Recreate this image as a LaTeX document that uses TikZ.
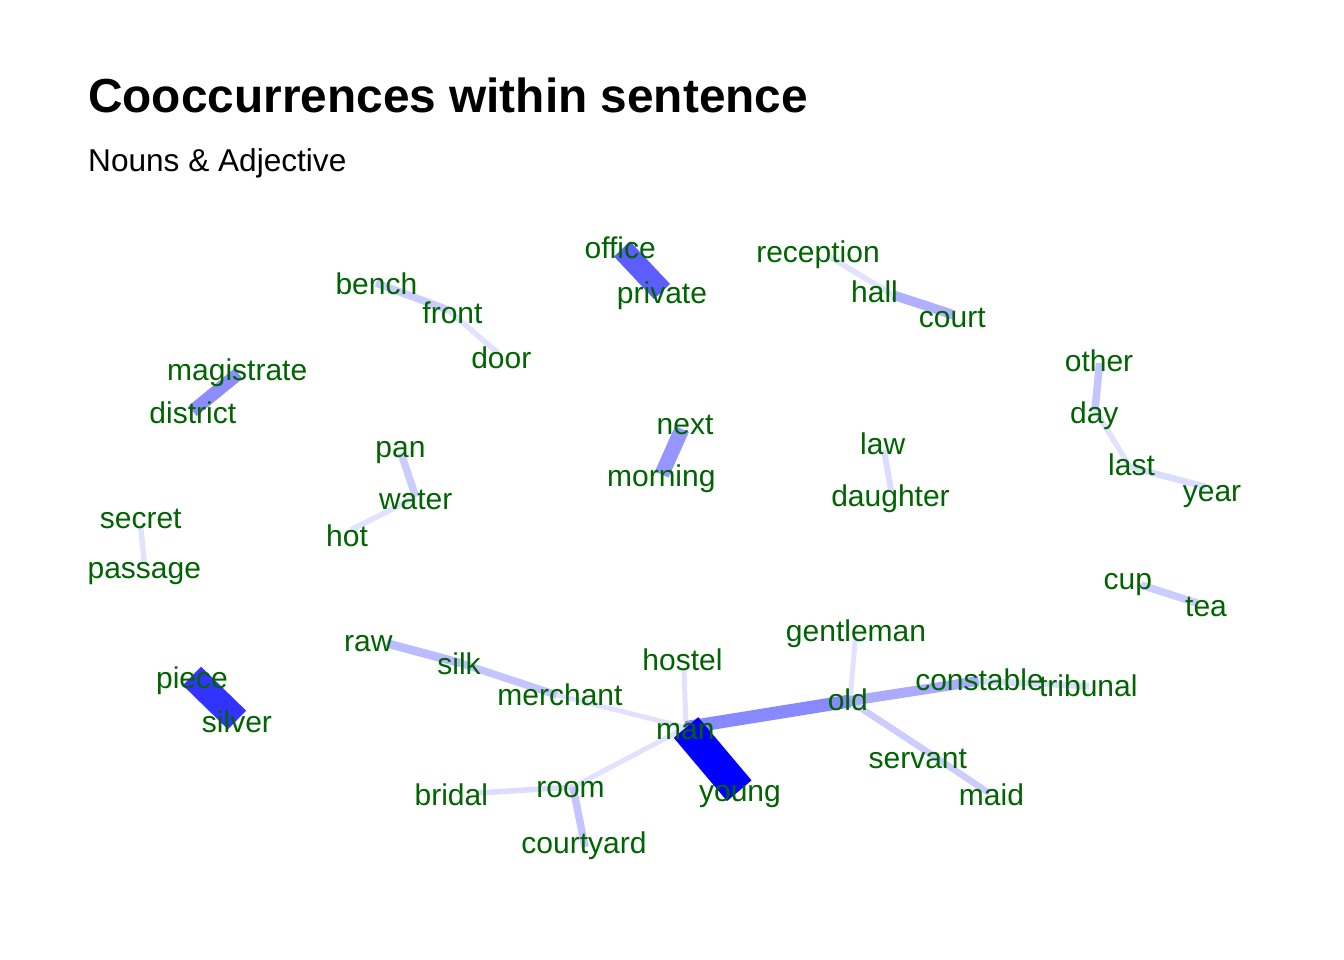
\documentclass[tikz,border=0pt]{standalone}
\usepackage{fontspec}
\setmainfont{Liberation Sans}
\definecolor{lbl}{RGB}{0,100,0}
\begin{document}
\begin{tikzpicture}[x=1pt,y=-1pt,
  lab/.style={anchor=base,inner sep=0pt,text=lbl,font=\fontsize{30}{36}\selectfont,yshift=-1.5pt},
  ed/.style={line cap=butt,line width=#1},
]
\fill[white] (0,0) rectangle (1344,960);
\useasboundingbox (0,0) rectangle (1344,960);
% title
\node[anchor=base west,inner sep=0pt,font=\fontsize{47.8}{56}\selectfont\bfseries] (title) at (88,113) {Cooccurrences within sentence};
\node[anchor=base west,inner sep=0pt,font=\fontsize{31.6}{38}\selectfont] (subtitle) at (88,171.5) {Nouns \& Adjective};
% node points
\coordinate (p-office) at (622,249);
\coordinate (p-private) at (662,291.5);
\coordinate (p-reception) at (830,257);
\coordinate (p-hall) at (893,295);
\coordinate (p-court) at (954,315);
\coordinate (p-bench) at (376,283);
\coordinate (p-front) at (448,310);
\coordinate (p-door) at (498,353);
\coordinate (p-magistrate) at (238.5,373.5);
\coordinate (p-district) at (192.5,411);
\coordinate (p-other) at (1099.6,363);
\coordinate (p-day) at (1095,410);
\coordinate (p-last) at (1130,467);
\coordinate (p-year) at (1206,487);
\coordinate (p-next) at (682,429);
\coordinate (p-morning) at (661.7,474.5);
\coordinate (p-law) at (884,450);
\coordinate (p-daughter) at (891,490);
\coordinate (p-pan) at (401,453);
\coordinate (p-water) at (415.7,497);
\coordinate (p-hot) at (351,530);
\coordinate (p-secret) at (140.7,527);
\coordinate (p-passage) at (144.3,563);
\coordinate (p-cup) at (1141,585);
\coordinate (p-tea) at (1197,603);
\coordinate (p-gentleman) at (855.4,637);
\coordinate (p-hostel) at (684,670);
\coordinate (p-raw) at (386.7,643.3);
\coordinate (p-silk) at (460,663);
\coordinate (p-merchant) at (556.7,695);
\coordinate (p-man) at (686,727.5);
\coordinate (p-old) at (850,701);
\coordinate (p-constable) at (978.6,681);
\coordinate (p-tribunal) at (1089,686);
\coordinate (p-servant) at (920,747);
\coordinate (p-maid) at (989,793);
\coordinate (p-piece) at (192,676);
\coordinate (p-silver) at (237,720);
\coordinate (p-young) at (739.3,790.7);
\coordinate (p-room) at (573,787);
\coordinate (p-bridal) at (478,793);
\coordinate (p-courtyard) at (585,847);
% edges
\definecolor{e1}{RGB}{0,0,255}
\definecolor{e2}{RGB}{51,51,255}
\definecolor{e3}{RGB}{92,92,255}
\definecolor{e4}{RGB}{150,150,255}
\definecolor{e5}{RGB}{140,140,255}
\definecolor{e6}{RGB}{136,136,255}
\definecolor{e7}{RGB}{170,170,255}
\definecolor{e8}{RGB}{176,176,255}
\definecolor{e9}{RGB}{187,187,255}
\definecolor{e10}{RGB}{196,196,255}
\definecolor{e11}{RGB}{204,204,255}
\definecolor{e12}{RGB}{220,220,255}
\definecolor{e13}{RGB}{226,226,255}
\draw[ed=5pt,e13] (p-man) -- (p-merchant);
\draw[ed=5pt,e13] (p-man) -- (p-room);
\draw[ed=5pt,e13] (p-man) -- (p-hostel);
\draw[ed=5pt,e13] (p-old) -- (p-gentleman);
\draw[ed=5.5pt,e13] (p-water) -- (p-hot);
\draw[ed=5.5pt,e13] (p-secret) -- (p-passage);
\draw[ed=5.5pt,e13] (p-front) -- (p-door);
\draw[ed=5.5pt,e13] (p-reception) -- (p-hall);
\draw[ed=5.5pt,e13] (p-day) -- (p-last);
\draw[ed=5.5pt,e12] (p-room) -- (p-bridal);
\draw[ed=6pt,e12] (p-law) -- (p-daughter);
\draw[ed=6.5pt,e12] (p-last) -- (p-year);
\draw[ed=6.5pt,e12] (p-constable) -- (p-tribunal);
\draw[ed=6.5pt,e11] (p-old) -- (p-servant);
\draw[ed=6.5pt,e11] (p-servant) -- (p-maid);
\draw[ed=7.5pt,e10] (p-room) -- (p-courtyard);
\draw[ed=7.5pt,e11] (p-pan) -- (p-water);
\draw[ed=7.5pt,e11] (p-cup) -- (p-tea);
\draw[ed=7.5pt,e10] (p-other) -- (p-day);
\draw[ed=7.5pt,e11] (p-bench) -- (p-front);
\draw[ed=7.5pt,e10] (p-silk) -- (p-merchant);
\draw[ed=8.5pt,e9] (p-raw) -- (p-silk);
\draw[ed=9.5pt,e8] (p-hall) -- (p-court);
\draw[ed=10pt,e7] (p-old) -- (p-constable);
\draw[ed=13pt,e6] (p-man) -- (p-old);
\draw[ed=13pt,e5] (p-magistrate) -- (p-district);
\draw[ed=15pt,e4] (p-next) -- (p-morning);
\draw[ed=22pt,e3] (p-office) -- (p-private);
\draw[ed=26pt,e2] (p-piece) -- (p-silver);
\draw[ed=32pt,e1] (p-man) -- (p-young);
% labels
\node[lab] (office) at (620.2,256.7) {office};
\node[lab] (private) at (662,301.7) {private};
\node[lab] (reception) at (818,260.7) {reception};
\node[lab] (hall) at (874.5,300.7) {hall};
\node[lab] (court) at (952.3,326) {court};
\node[lab] (bench) at (376.4,292.7) {bench};
\node[lab] (front) at (452.5,321.7) {front};
\node[lab] (door) at (501.3,366.7) {door};
\node[lab] (magistrate) at (237.2,379.3) {magistrate};
\node[lab] (district) at (192.8,422.3) {district};
\node[lab] (other) at (1099,370) {other};
\node[lab] (day) at (1094.3,421.7) {day};
\node[lab] (last) at (1131.5,474) {last};
\node[lab] (year) at (1212,500) {year};
\node[lab] (next) at (685,433.3) {next};
\node[lab] (morning) at (661.3,485) {morning};
\node[lab] (law) at (882.7,452.7) {law};
\node[lab] (daughter) at (890.5,505) {daughter};
\node[lab] (pan) at (400.5,456) {pan};
\node[lab] (water) at (415.7,508.3) {water};
\node[lab] (hot) at (347,545) {hot};
\node[lab] (secret) at (140.7,526.7) {secret};
\node[lab] (passage) at (144.3,576.7) {passage};
\node[lab] (cup) at (1127.8,588.3) {cup};
\node[lab] (tea) at (1206,615) {tea};
\node[lab] (gentleman) at (856,640) {gentleman};
\node[lab] (hostel) at (682.5,669.3) {hostel};
\node[lab] (raw) at (368.3,650) {raw};
\node[lab] (silk) at (459,673.3) {silk};
\node[lab] (merchant) at (560,704) {merchant};
\node[lab] (constable) at (979.5,689.3) {constable};
\node[lab] (tribunal) at (1088.3,695) {tribunal};
\node[lab] (old) at (847.8,709.3) {old};
\node[lab] (piece) at (192,686.7) {piece};
\node[lab] (silver) at (237,730.7) {silver};
\node[lab] (man) at (685.3,738.3) {man};
\node[lab] (servant) at (917.8,767.3) {servant};
\node[lab] (maid) at (991.5,804.3) {maid};
\node[lab] (bridal) at (451.3,804.3) {bridal};
\node[lab] (room) at (570.5,795.7) {room};
\node[lab] (young) at (740,800) {young};
\node[lab] (courtyard) at (584,851.7) {courtyard};
\end{tikzpicture}
\end{document}
